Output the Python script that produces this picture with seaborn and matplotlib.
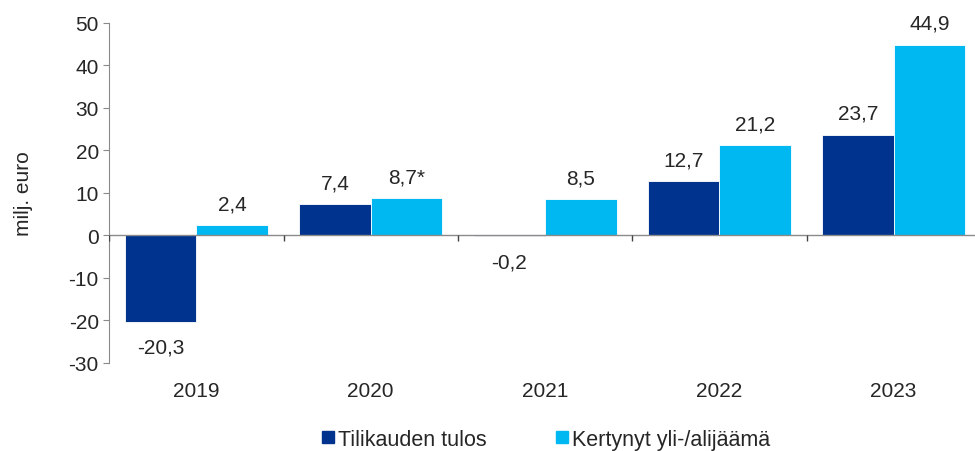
import numpy as np
import pandas as pd
import matplotlib
matplotlib.use("Agg")
import matplotlib.pyplot as plt
import seaborn as sns
from matplotlib.lines import Line2D

# ============================================
# Data
# ============================================

years = ["2019", "2020", "2021", "2022", "2023"]
series_names = ["Tilikauden tulos", "Kertynyt yli-/alijäämä"]
tulos = [-20.3, 7.4, -0.2, 12.7, 23.7]
kertynyt = [2.4, 8.7, 8.5, 21.2, 44.9]
tulos_labels = ["-20,3", "7,4", "-0,2", "12,7", "23,7"]
kertynyt_labels = ["2,4", "8,7*", "8,5", "21,2", "44,9"]

colors = ["#00338E", "#00B8F1"]
gray = "#8A8A8A"

df = pd.DataFrame({
    "vuosi": years * 2,
    "sarja": [series_names[0]] * len(years) + [series_names[1]] * len(years),
    "arvo": tulos + kertynyt,
})

# ============================================
# Plot
# ============================================

sns.set_style("white")
plt.rcParams["font.family"] = ["Liberation Sans", "DejaVu Sans"]
plt.rcParams["axes.unicode_minus"] = False
fs = 15

fig = plt.figure(figsize=(9.75, 4.52), dpi=100)
ax = fig.add_axes([0.112, 0.195, 0.894, 0.752])

sns.barplot(
    data=df, x="vuosi", y="arvo", hue="sarja",
    order=years, hue_order=series_names, palette=colors, saturation=1,
    width=0.82, gap=0, edgecolor="white", linewidth=0.6,
    legend=False, ax=ax, zorder=2
)

# value labels
for container, labels in zip(ax.containers, [tulos_labels, kertynyt_labels]):
    for bar, lab in zip(container, labels):
        x = bar.get_x() + bar.get_width() / 2
        h = bar.get_height()
        if h >= 0:
            ax.annotate(lab, (x, h), xytext=(0, 8.5), textcoords="offset points",
                        ha="center", va="bottom", fontsize=fs)
        else:
            ax.annotate(lab, (x, h), xytext=(0, -11.5), textcoords="offset points",
                        ha="center", va="top", fontsize=fs)

# zero line with category separators
ax.axhline(0, color=gray, lw=1, zorder=3)
ax.vlines(np.arange(-0.5, len(years)), -1.4, 0, color="#444444", lw=1, zorder=3)

ax.set_xlim(-0.5, len(years) - 0.5)
ax.set_ylim(-30, 50)
ax.set_yticks(np.arange(-30, 51, 10))
ax.set_ylabel("milj. euro", fontsize=fs)
ax.yaxis.set_label_coords(-0.087, 0.5)
ax.set_xlabel("")

for side in ["top", "right", "bottom"]:
    ax.spines[side].set_visible(False)
ax.spines["left"].set_color(gray)
ax.tick_params(axis="y", length=4.5, color=gray, pad=3, labelsize=fs, left=True)
ax.tick_params(axis="x", length=0, pad=13, labelsize=fs)

handles = [Line2D([], [], marker="s", ls="", color=c, markersize=8) for c in colors]
fig.legend(handles, series_names, loc="center", bbox_to_anchor=(0.56, 0.026),
           ncol=2, frameon=False, fontsize=15.5, handlelength=0.6,
           handletextpad=0.15, columnspacing=3.2)

fig.savefig("out.png", dpi=100)
